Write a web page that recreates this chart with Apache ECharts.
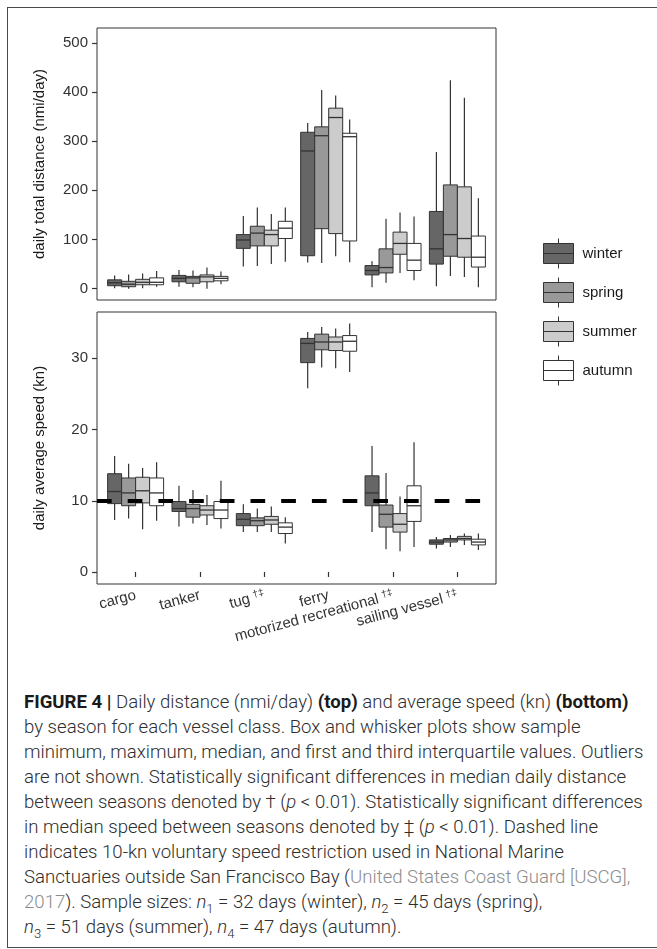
<!DOCTYPE html>
<html>
<head>
<meta charset="utf-8">
<script src="https://cdn.jsdelivr.net/npm/echarts@6/dist/echarts.min.js"></script>
<style>
  html, body { margin: 0; padding: 0; background: #fff; }
  body { width: 657px; height: 949px; position: relative; overflow: hidden; }
  #frame { position: absolute; left: 7px; top: 7px; width: 700px; height: 941px;
           border: 1.5px solid #4a4a4a; box-sizing: border-box; }
  #chart { position: absolute; left: 0; top: 0; width: 657px; height: 690px; }
  #caption { position: absolute; left: 24px; top: 690px; white-space: nowrap;
             font-family: Roboto, "Liberation Sans", sans-serif; font-weight: 300;
             font-size: 18.6px; line-height: 25px; color: #2e2e2e; }
  #caption b { font-weight: 700; color: #1a1a1a; }
  #caption .ref { color: #8c8c8c; }
  #caption sub { font-size: 70%; line-height: 0; }
</style>
</head>
<body>
<div id="frame"></div>
<div id="chart"></div>
<div id="caption"><b>FIGURE 4 |</b> Daily distance (nmi/day) <b>(top)</b> and average speed (kn) <b>(bottom)</b><br>by season for each vessel class. Box and whisker plots show sample<br>minimum, maximum, median, and first and third interquartile values. Outliers<br>are not shown. Statistically significant differences in median daily distance<br>between seasons denoted by † (<i>p</i> &lt; 0.01). Statistically significant differences<br>in median speed between seasons denoted by ‡ (<i>p</i> &lt; 0.01). Dashed line<br>indicates 10-kn voluntary speed restriction used in National Marine<br>Sanctuaries outside San Francisco Bay (<span class="ref">United States Coast Guard [USCG],</span><br><span class="ref">2017</span>). Sample sizes: <i>n</i><sub>1</sub> = 32 days (winter), <i>n</i><sub>2</sub> = 45 days (spring),<br><i>n</i><sub>3</sub> = 51 days (summer), <i>n</i><sub>4</sub> = 47 days (autumn).</div>
<script>
const vesselClasses = ['cargo', 'tanker', 'tug', 'ferry', 'motorized recreational', 'sailing vessel']
const classMarks = ['', '', '†‡', '', '†‡', '†‡']
const seasons = ['winter', 'spring', 'summer', 'autumn']
const distTicks = [0, 100, 200, 300, 400, 500]
const speedTicks = [0, 10, 20, 30]
const speedLimit = 10

// daily total distance (nmi/day), per class: [min, Q1, median, Q3, max]
const distWinter = [[1, 6, 12, 18, 27], [4, 14, 21, 27, 38], [45, 82, 99, 110, 148], [53, 67, 280, 318, 337], [3, 28, 37, 47, 56], [5, 50, 81, 157, 278]]
const distSpring = [[0, 4, 9, 15, 29], [3, 11, 22, 25, 37], [46, 87, 113, 127, 165], [52, 122, 311, 329, 404], [12, 32, 43, 81, 142], [26, 66, 110, 211, 424]]
const distSummer = [[1, 8, 13, 19, 31], [0, 14, 24, 28, 43], [50, 87, 110, 119, 152], [66, 112, 348, 367, 393], [32, 70, 92, 115, 155], [24, 64, 102, 207, 388]]
const distAutumn = [[4, 8, 13, 22, 36], [9, 16, 21, 25, 35], [55, 102, 123, 137, 165], [54, 97, 309, 316, 344], [17, 37, 58, 92, 147], [3, 44, 64, 107, 184]]

// daily average speed (kn), per class: [min, Q1, median, Q3, max]
const speedWinter = [[7.3, 9.6, 11.3, 13.8, 16.3], [6.4, 8.5, 8.9, 9.9, 12.1], [5.6, 6.5, 7.4, 8.2, 9.5], [25.8, 29.4, 32.1, 32.8, 33.7], [5.6, 9.3, 11.1, 13.5, 17.7], [3.3, 3.9, 4.2, 4.5, 4.9]]
const speedSpring = [[7.5, 9.3, 11.1, 13.2, 15.2], [6.8, 7.7, 8.9, 9.5, 11.5], [5.6, 6.5, 7.2, 7.6, 8.9], [28.7, 31.2, 32.3, 33.4, 34.4], [3.2, 6.3, 8.1, 9.4, 13.9], [3.5, 4.2, 4.5, 4.7, 5.2]]
const speedSummer = [[6.0, 9.7, 11.4, 13.3, 14.6], [6.6, 8.0, 8.7, 9.3, 10.8], [5.6, 6.7, 7.3, 7.8, 9.2], [28.6, 31.1, 32.3, 33.0, 34.2], [2.9, 5.6, 6.7, 8.2, 10.6], [3.8, 4.5, 4.7, 5.0, 5.4]]
const speedAutumn = [[7.2, 9.3, 11.1, 13.2, 15.4], [6.1, 7.5, 8.7, 9.9, 12.8], [4.0, 5.4, 6.3, 6.9, 7.7], [28.1, 31.0, 32.4, 33.2, 34.9], [3.5, 7.1, 9.3, 12.1, 18.2], [3.1, 3.8, 4.2, 4.6, 5.4]]

const seasonFills = ['#666666', '#999999', '#cccccc', '#ffffff']
const lineColor = '#333333'
const font = '"Liberation Sans", Arial, sans-serif'
const boxWidth = 0.2175 // one season box, in category units

const classPositions = vesselClasses.map((c, i) => i + 1)

const boxSeries = (name, values, k, axisIndex) => ({
  name,
  type: 'custom',
  xAxisIndex: axisIndex,
  yAxisIndex: axisIndex,
  itemStyle: { color: seasonFills[k] },
  encode: { x: 0, y: [1, 2, 3, 4, 5] },
  data: values.map((v, i) => [classPositions[i]].concat(v)),
  renderItem: (params, api) => {
    const x = api.value(0) + (k - 1.5) * boxWidth
    const half = boxWidth / 2
    const lo = api.coord([x, api.value(1)])
    const hi = api.coord([x, api.value(5)])
    const q1 = api.coord([x - half, api.value(2)])
    const q3 = api.coord([x + half, api.value(4)])
    const m0 = api.coord([x - half, api.value(3)])
    const m1 = api.coord([x + half, api.value(3)])
    return {
      type: 'group',
      children: [
        { type: 'line', shape: { x1: lo[0], y1: lo[1], x2: hi[0], y2: hi[1] }, style: { stroke: lineColor, lineWidth: 1.2 } },
        { type: 'rect', shape: { x: q1[0], y: q3[1], width: q3[0] - q1[0], height: q1[1] - q3[1] }, style: { fill: seasonFills[k], stroke: lineColor, lineWidth: 1 } },
        { type: 'line', shape: { x1: m0[0], y1: m0[1], x2: m1[0], y2: m1[1] }, style: { stroke: lineColor, lineWidth: 1.3 } }
      ]
    }
  }
})

const xAxisBase = {
  type: 'value',
  min: 0.4,
  max: 6.6,
  splitLine: { show: false },
  axisLine: { show: false }
}

const yAxisBase = {
  type: 'value',
  nameLocation: 'middle',
  nameGap: 50,
  nameTextStyle: { fontFamily: font, fontSize: 15, color: '#1a1a1a' },
  splitLine: { show: false },
  axisLine: { show: false },
  axisTick: { show: true, length: 5, lineStyle: { color: lineColor, width: 1.2 } },
  axisLabel: { margin: 9, fontFamily: font, fontSize: 15, color: '#333' }
}

const chart = echarts.init(document.getElementById('chart'))

chart.setOption({
  animation: false,
  grid: [
    { left: 97, top: 28, width: 399, height: 272, show: true, borderColor: lineColor, borderWidth: 1 },
    { left: 97, top: 312, width: 399, height: 272, show: true, borderColor: lineColor, borderWidth: 1 }
  ],
  xAxis: [
    { ...xAxisBase, gridIndex: 0, axisTick: { show: false }, axisLabel: { show: false } },
    {
      ...xAxisBase,
      gridIndex: 1,
      axisTick: { show: true, customValues: classPositions, length: 5, lineStyle: { color: lineColor, width: 1.2 } },
      axisLabel: {
        customValues: classPositions,
        rotate: 15,
        margin: 11,
        fontFamily: font,
        fontSize: 15,
        color: '#333',
        formatter: (v) => {
          const i = Math.round(v) - 1
          return classMarks[i] ? vesselClasses[i] + '{s|' + classMarks[i] + '}' : vesselClasses[i]
        },
        rich: {
          s: { fontFamily: font, fontSize: 10, color: '#333', verticalAlign: 'top', padding: [0, 0, 6, 4] }
        }
      }
    }
  ],
  yAxis: [
    {
      ...yAxisBase,
      gridIndex: 0,
      min: -23,
      max: 530,
      name: 'daily total distance (nmi/day)',
      axisTick: { ...yAxisBase.axisTick, customValues: distTicks },
      axisLabel: { ...yAxisBase.axisLabel, customValues: distTicks }
    },
    {
      ...yAxisBase,
      gridIndex: 1,
      min: -1.69,
      max: 36.51,
      name: 'daily average speed (kn)',
      axisTick: { ...yAxisBase.axisTick, customValues: speedTicks },
      axisLabel: { ...yAxisBase.axisLabel, customValues: speedTicks }
    }
  ],
  legend: {
    orient: 'vertical',
    left: 538,
    top: 233,
    itemWidth: 30,
    itemHeight: 30,
    itemGap: 8,
    selectedMode: false,
    icon: 'path://M15,0L15,5M0,5L30,5L30,25L0,25ZM0,15L30,15M15,25L15,30',
    textStyle: { fontFamily: font, fontSize: 15, color: '#1a1a1a', padding: [0, 0, 0, 4] },
    data: seasons.map((s, k) => ({
      name: s,
      itemStyle: { color: seasonFills[k], borderColor: lineColor, borderWidth: 1 }
    }))
  },
  series: [
    boxSeries(seasons[0], distWinter, 0, 0),
    boxSeries(seasons[1], distSpring, 1, 0),
    boxSeries(seasons[2], distSummer, 2, 0),
    boxSeries(seasons[3], distAutumn, 3, 0),
    boxSeries(seasons[0], speedWinter, 0, 1),
    boxSeries(seasons[1], speedSpring, 1, 1),
    boxSeries(seasons[2], speedSummer, 2, 1),
    {
      ...boxSeries(seasons[3], speedAutumn, 3, 1),
      markLine: {
        silent: true,
        symbol: 'none',
        label: { show: false },
        lineStyle: { color: '#000', width: 4, type: [14.7, 16] },
        data: [{ yAxis: speedLimit }]
      }
    }
  ]
})
</script>
</body>
</html>
